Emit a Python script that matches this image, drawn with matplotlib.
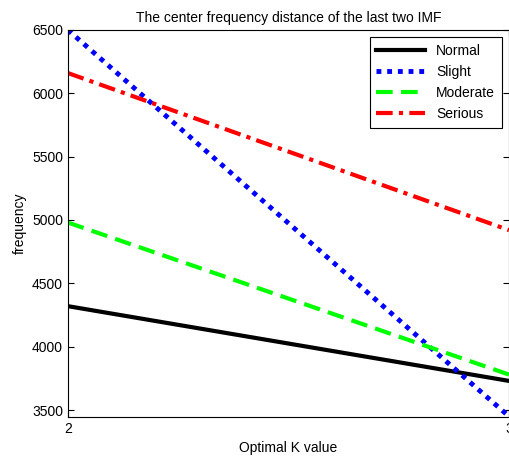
import matplotlib
matplotlib.use('Agg')
import matplotlib.pyplot as plt

plt.rcParams['font.family'] = ['Liberation Sans', 'DejaVu Sans']

# data
k_values = [2, 3]
normal = [4320, 3730]
slight = [6500, 3450]
moderate = [4980, 3780]
serious = [6160, 4920]

fig = plt.figure(figsize=(5.1, 4.57), dpi=100)
ax = fig.add_axes([0.133, 0.0875, 0.865, 0.847])

ax.plot(k_values, normal, color='black', linestyle='-', linewidth=3, label='Normal')
ax.plot(k_values, slight, color='blue', linestyle=(0, (1, 1.2)), linewidth=3.5, label='Slight')
ax.plot(k_values, moderate, color='#00ff00', linestyle=(0, (4, 2)), linewidth=3, label='Moderate')
ax.plot(k_values, serious, color='red', linestyle=(0, (4, 1.5, 1, 1.5)), linewidth=3, label='Serious')

ax.set_xlim(2, 3)
ax.set_ylim(3445, 6500)
ax.set_xticks([2, 3])
ax.set_yticks([3500, 4000, 4500, 5000, 5500, 6000, 6500])
ax.tick_params(direction='in', top=True, right=True, labelsize=10, length=4)

ax.set_title('The center frequency distance of the last two IMF', fontsize=10)
ax.set_xlabel('Optimal K value', fontsize=10)
ax.set_ylabel('frequency', fontsize=10)

leg = ax.legend(loc='upper right', fontsize=10, fancybox=False, edgecolor='black',
                framealpha=1, handlelength=3.5, borderpad=0.5, labelspacing=0.5)
leg.get_frame().set_linewidth(0.8)

fig.savefig('out.png', dpi=100)
